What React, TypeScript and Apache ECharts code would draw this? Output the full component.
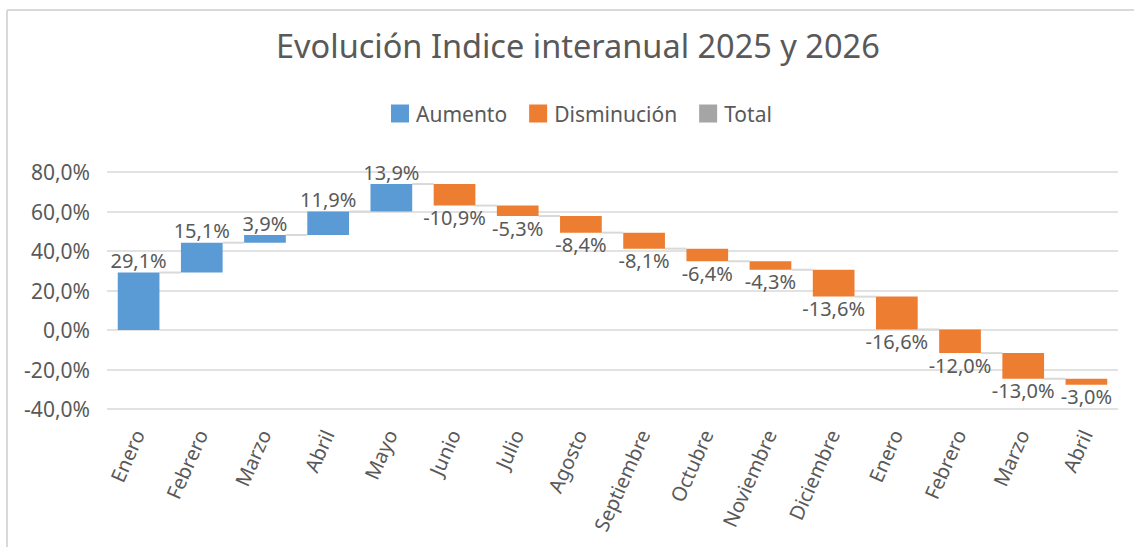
import React, { useEffect, useRef } from "react";
import * as echarts from "echarts";

const categories = [
  "Enero", "Febrero", "Marzo", "Abril", "Mayo", "Junio", "Julio", "Agosto",
  "Septiembre", "Octubre", "Noviembre", "Diciembre", "Enero", "Febrero", "Marzo", "Abril",
];
const deltas = [29.1, 15.1, 3.9, 11.9, 13.9, -10.9, -5.3, -8.4, -8.1, -6.4, -4.3, -13.6, -16.6, -12.0, -13.0, -3.0];
const yTicks = { min: -40, max: 80, interval: 20 };
const legendNames = ["Aumento", "Disminución", "Total"];

const COLOR_UP = "#5b9bd5";
const COLOR_DOWN = "#ed7d31";
const COLOR_TOTAL = "#a5a5a5";
const TEXT = "#595959";
const FONT = "'Noto Sans', 'Open Sans', sans-serif";

const fmt = (v: number) => v.toFixed(1).replace(".", ",") + "%";

export default function App() {
  const ref = useRef<HTMLDivElement>(null);
  useEffect(() => {
    if (!ref.current) return;
    const chart = echarts.init(ref.current, null, { renderer: "svg" });

    const starts: number[] = [];
    const ends: number[] = [];
    let run = 0;
    deltas.forEach((d) => {
      starts.push(run);
      run = Math.round((run + d) * 10) / 10;
      ends.push(run);
    });
    const upData: any[] = [];
    const downData: any[] = [];
    deltas.forEach((d, i) => {
      const item = [i, starts[i], ends[i], d];
      if (d >= 0) upData.push(item);
      else downData.push(item);
    });
    const connData = ends.slice(0, ends.length - 1).map((v, i) => [i, v]);

    const barRender = (up: boolean) => (params: any, api: any) => {
      const idx = api.value(0);
      const p1 = api.coord([idx, api.value(1)]);
      const p2 = api.coord([idx, api.value(2)]);
      const w = api.size([1, 0])[0] * 0.66;
      const top = Math.min(p1[1], p2[1]);
      const h = Math.abs(p1[1] - p2[1]);
      return {
        type: "group",
        children: [
          {
            type: "rect",
            shape: { x: p1[0] - w / 2, y: top, width: w, height: h },
            style: { fill: up ? COLOR_UP : COLOR_DOWN },
          },
          {
            type: "text",
            x: p1[0],
            y: up ? top - 2 : top + h + 2,
            style: {
              text: fmt(api.value(3)),
              fill: TEXT,
              fontSize: 20,
              fontFamily: FONT,
              align: "center",
              verticalAlign: up ? "bottom" : "top",
            },
          },
        ],
      };
    };

    chart.setOption({
      animation: false,
      backgroundColor: "#ffffff",
      title: {
        text: "Evolución Indice interanual 2025 y 2026",
        left: 271,
        top: 24,
        textStyle: { color: TEXT, fontSize: 32.5, fontWeight: "normal", fontFamily: FONT },
      },
      legend: {
        data: legendNames,
        top: 98,
        left: 386,
        icon: "rect",
        itemWidth: 18,
        itemHeight: 18,
        itemGap: 22,
        textStyle: { color: TEXT, fontSize: 21, fontFamily: FONT, padding: [0, 0, 0, 2] },
      },
      grid: { left: 107, right: 16, top: 172, bottom: 138, containLabel: false },
      xAxis: {
        type: "category",
        data: categories,
        axisLine: { show: false },
        axisTick: { show: false },
        axisLabel: { rotate: 66, color: TEXT, fontSize: 20, fontFamily: FONT, margin: 22, interval: 0 },
        splitLine: { show: false },
      },
      yAxis: {
        type: "value",
        min: yTicks.min,
        max: yTicks.max,
        interval: yTicks.interval,
        axisLine: { show: false },
        axisTick: { show: false },
        axisLabel: { color: TEXT, fontSize: 21, fontFamily: FONT, margin: 17, formatter: (v: number) => fmt(v) },
        splitLine: { lineStyle: { color: "#d9d9d9", width: 1.5 } },
      },
      graphic: [
        { type: "line", shape: { x1: 7, y1: 10, x2: 1134, y2: 10 }, style: { stroke: "#d9d9d9", lineWidth: 2 } },
        { type: "line", shape: { x1: 7, y1: 10, x2: 7, y2: 547 }, style: { stroke: "#d9d9d9", lineWidth: 2 } },
      ],
      series: [
        {
          name: "Conector",
          type: "custom",
          silent: true,
          z: 1,
          data: connData,
          renderItem: (params: any, api: any) => {
            const i = api.value(0);
            const v = api.value(1);
            const a = api.coord([i, v]);
            const b = api.coord([i + 1, v]);
            const w = api.size([1, 0])[0] * 0.66;
            return {
              type: "line",
              shape: { x1: a[0] + w / 2, y1: a[1], x2: b[0] - w / 2, y2: b[1] },
              style: { stroke: "#d9d9d9", lineWidth: 2 },
            };
          },
        },
        {
          name: "Aumento",
          type: "custom",
          z: 2,
          itemStyle: { color: COLOR_UP },
          data: upData,
          renderItem: barRender(true),
        },
        {
          name: "Disminución",
          type: "custom",
          z: 2,
          itemStyle: { color: COLOR_DOWN },
          data: downData,
          renderItem: barRender(false),
        },
        {
          name: "Total",
          type: "bar",
          itemStyle: { color: COLOR_TOTAL },
          data: [],
        },
      ],
    });
    return () => chart.dispose();
  }, []);
  return (
    <div
      ref={ref}
      style={{ position: "fixed", left: 0, top: 0, width: 1134, height: 547 }}
    />
  );
}
